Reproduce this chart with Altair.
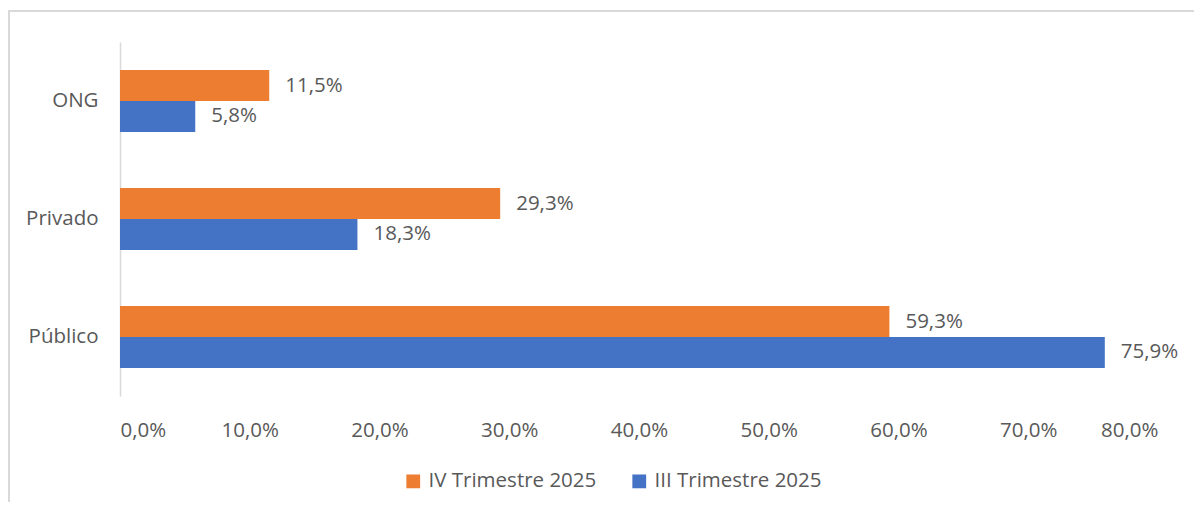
import altair as alt
import pandas as pd

categories = ["ONG", "Privado", "Público"]
series = ["IV Trimestre 2025", "III Trimestre 2025"]
iv_values = [11.5, 29.3, 59.3]
iii_values = [5.8, 18.3, 75.9]
x_ticks = [0, 10, 20, 30, 40, 50, 60, 70, 80]

rows = []
for c, a, b in zip(categories, iv_values, iii_values):
    rows.append({"cat": c, "serie": series[0], "value": a})
    rows.append({"cat": c, "serie": series[1], "value": b})
df = pd.DataFrame(rows)

FONT = "Open Sans"
TXT = "#595959"
FS = 20.5
W, H = 1038, 354

y_enc = alt.Y("cat:N", sort=categories, title=None,
              scale=alt.Scale(paddingInner=0.4746, paddingOuter=0.2373),
              axis=alt.Axis(ticks=False, domain=True, domainColor="#D9D9D9", domainWidth=1.5,
                            labelFont=FONT, labelFontSize=FS, labelColor=TXT, labelPadding=22))
x_enc = alt.X("value:Q", title=None,
              scale=alt.Scale(domain=[0, 80], nice=False),
              axis=alt.Axis(values=x_ticks, grid=False, ticks=False, domain=False,
                            labelFont=FONT, labelFontSize=FS, labelColor=TXT, labelPadding=24,
                            labelExpr="replace(format(datum.value, '.1f'), '.', ',') + '%'"))
yoff = alt.YOffset("serie:N", sort=series, scale=alt.Scale(paddingInner=0, paddingOuter=0))
color = alt.Color("serie:N", sort=series,
                  scale=alt.Scale(domain=series, range=["#ED7D31", "#4472C4"]),
                  legend=alt.Legend(title=None, orient="none", direction="horizontal",
                                    legendX=283, legendY=429, symbolType="square", symbolSize=190,
                                    symbolStrokeWidth=0, labelFont=FONT, labelFontSize=FS,
                                    labelColor=TXT, columnPadding=32, labelOffset=5,
                                    labelLimit=400))

base = alt.Chart(df)
bars = base.mark_bar().encode(y=y_enc, x=x_enc, yOffset=yoff, color=color)
labels = base.transform_calculate(
    lab="replace(format(datum.value, '.1f'), '.', ',') + '%'"
).mark_text(align="left", baseline="middle", dx=16, font=FONT, fontSize=FS, color=TXT).encode(
    y=alt.Y("cat:N", sort=categories), x="value:Q", yOffset=yoff, text="lab:N")

border_top = alt.Chart(pd.DataFrame({"a": [0]})).mark_rule(color="#D9D9D9", strokeWidth=2).encode(
    x=alt.value(-112), x2=alt.value(1100), y=alt.value(-31))
border_left = alt.Chart(pd.DataFrame({"a": [0]})).mark_rule(color="#D9D9D9", strokeWidth=2).encode(
    x=alt.value(-111), y=alt.value(-31), y2=alt.value(480))

chart = alt.layer(border_top, border_left, bars, labels).properties(
    width=W, height=H,
    autosize=alt.AutoSizeParams(type="none"),
    padding={"left": 112, "top": 34, "right": 36, "bottom": 106},
).configure(background="white").configure_view(strokeWidth=0, stroke="transparent")

chart.save("out.html", embed_options={"renderer": "svg", "actions": False})
